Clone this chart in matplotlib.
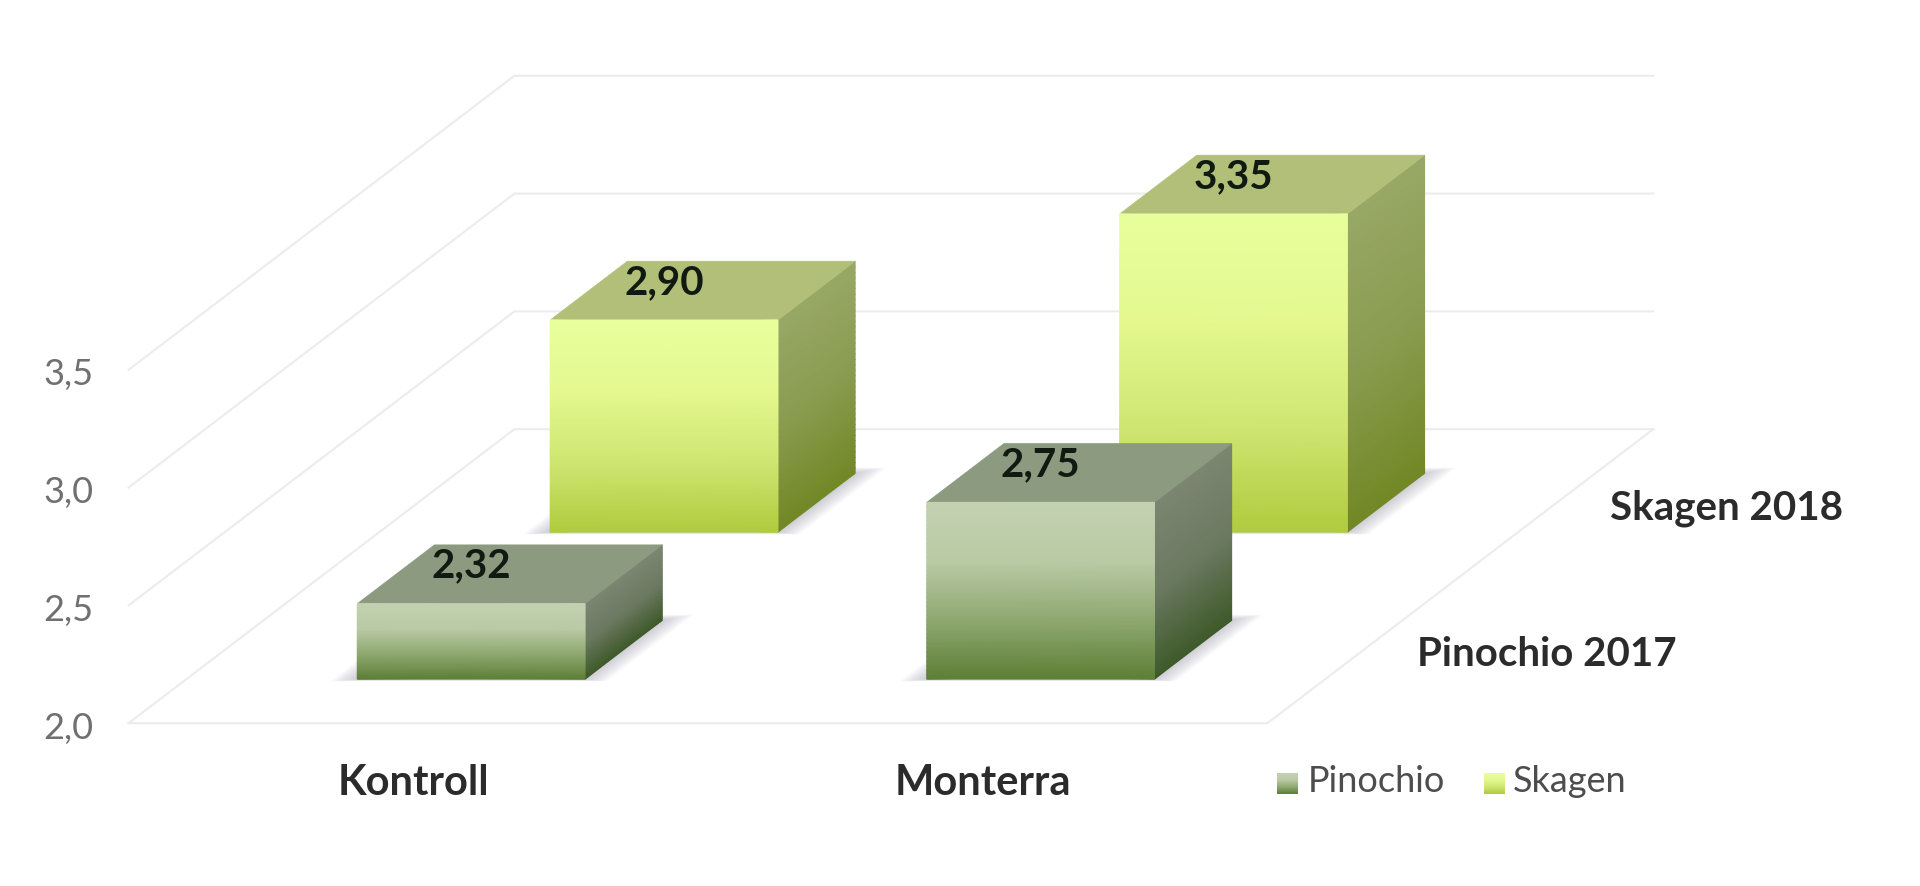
import numpy as np
import matplotlib
matplotlib.use('Agg')
import matplotlib.pyplot as plt
from matplotlib.colors import LinearSegmentedColormap
from matplotlib.patches import Polygon

plt.rcParams['font.family'] = ['Lato', 'DejaVu Sans']

# data
categories = ['Kontroll', 'Monterra']
series_names = ['Pinochio', 'Skagen']
series_labels = ['Pinochio 2017', 'Skagen 2018']
pinochio = [2.32, 2.75]
skagen = [2.90, 3.35]
value_labels = [['2,32', '2,75'], ['2,90', '3,35']]
y_ticks = [2.0, 2.5, 3.0, 3.5]
y_tick_labels = ['2,0', '2,5', '3,0', '3,5']

# oblique projection: depth axis runs up and to the right
DX = 0.3388
DY = 0.624
BASE = 2.0


def pr(c, v, d):
    return c + DX * d, v + DY * d


front_cm = [
    LinearSegmentedColormap.from_list('pf', ['#C3D1B1', '#B9CAA5', '#8FA870', '#5E7F36']),
    LinearSegmentedColormap.from_list('sf', ['#E7FF9C', '#E4F88F', '#CFE672', '#B0CB3E']),
]
side_cm = [
    LinearSegmentedColormap.from_list('ps', ['#7C8672', '#6C7A62', '#3F5A2A']),
    LinearSegmentedColormap.from_list('ss', ['#98A866', '#8A9C50', '#728826']),
]
top_col = ['#8C9A80', '#B2BF78']

fig = plt.figure(figsize=(19.2, 8.86), dpi=100)
ax = fig.add_axes([0, 0, 1, 1])
ax.set_xlim(-0.2258, 3.146)
ax.set_ylim(1.309, 5.0696)
ax.axis('off')

grid_col = '#ECECEC'
for v in y_ticks:
    x, y = zip(pr(0, v, 0), pr(0, v, 2), pr(2, v, 2))
    ax.plot(x, y, color=grid_col, lw=1.5, zorder=1)
x, y = zip(pr(0, BASE, 0), pr(2, BASE, 0), pr(2, BASE, 2))
ax.plot(x, y, color=grid_col, lw=1.5, zorder=1)


def mesh(cs, ds, top, cmap, z):
    # one face of a bar, colour runs with the value so it follows the face
    vs = np.linspace(BASE, top, 40)
    if len(ds) > 1:
        D, V = np.meshgrid(ds, vs)
        C = np.full_like(D, cs[0])
    else:
        C, V = np.meshgrid(cs, vs)
        D = np.full_like(C, ds[0])
    X, Y = pr(C, V, D)
    ax.pcolormesh(X, Y, (top - V) / (top - BASE), cmap=cmap, vmin=0, vmax=1,
                  shading='gouraud', zorder=z, rasterized=True)


def bar(cat, ser, val, z):
    c0 = cat + 0.3
    c1 = cat + 0.7
    d0 = ser + 0.3
    d1 = ser + 0.7
    # soft shadow on the floor
    for k in range(12):
        g = 0.0035 * k
        pts = [pr(c0 - g * 1.1, BASE, d0 - g * 0.4), pr(c1 + g * 1.1, BASE, d0 - g * 0.4),
               pr(c1 + g * 1.1, BASE, d1 + g), pr(c0 - g * 1.1, BASE, d1 + g)]
        ax.add_patch(Polygon(pts, closed=True, fc='#6A6A80', ec='none', alpha=0.032, zorder=z))
    mesh([c1], [d0, d1], val, side_cm[ser], z + 0.1)
    top = [pr(c0, val, d0), pr(c1, val, d0), pr(c1, val, d1), pr(c0, val, d1)]
    ax.add_patch(Polygon(top, closed=True, fc=top_col[ser], ec=top_col[ser], lw=0.5, zorder=z + 0.1))
    mesh([c0, c1], [d0], val, front_cm[ser], z + 0.2)
    ax.annotate(value_labels[ser][cat], pr(cat + 0.5, val, d0), xytext=(0, 27),
                textcoords='offset points', ha='center', va='center',
                fontsize=29, fontweight='bold', color='#111a11', zorder=20)


# back row first, then the front row
for i in range(2):
    bar(i, 1, skagen[i], 3 + i)
for i in range(2):
    bar(i, 0, pinochio[i], 6 + i)

for v, t in zip(y_ticks, y_tick_labels):
    x, y = pr(0, v, 0)
    ax.text(x - 0.062, y - 0.022, t, ha='right', va='center', fontsize=26, color='#707070')

for i, t in enumerate(categories):
    ax.text(i + 0.5, BASE - 0.255, t, ha='center', va='center', fontsize=30,
            fontweight='bold', color='#2b2b2b')

for i, t in enumerate(series_labels):
    x, y = pr(2, BASE, i + 0.5)
    ax.text(x + 0.093, y - 0.022, t, ha='left', va='center', fontsize=29,
            fontweight='bold', color='#2b2b2b')

# legend
W, H = 1920.0, 886.0
swatch_x = [1277, 1484]
text_x = [1308, 1513]
grad = np.linspace(0, 1, 40).reshape(-1, 1)
for i, name in enumerate(series_names):
    sw = fig.add_axes([swatch_x[i] / W, 1 - 794 / H, 21 / W, 21 / H])
    sw.imshow(grad, aspect='auto', cmap=front_cm[i], vmin=0, vmax=1)
    sw.axis('off')
    fig.text(text_x[i] / W, 1 - 781 / H, name, ha='left', va='center', fontsize=26, color='#4d4d4d')

fig.savefig('out.png', dpi=100, facecolor='white')
